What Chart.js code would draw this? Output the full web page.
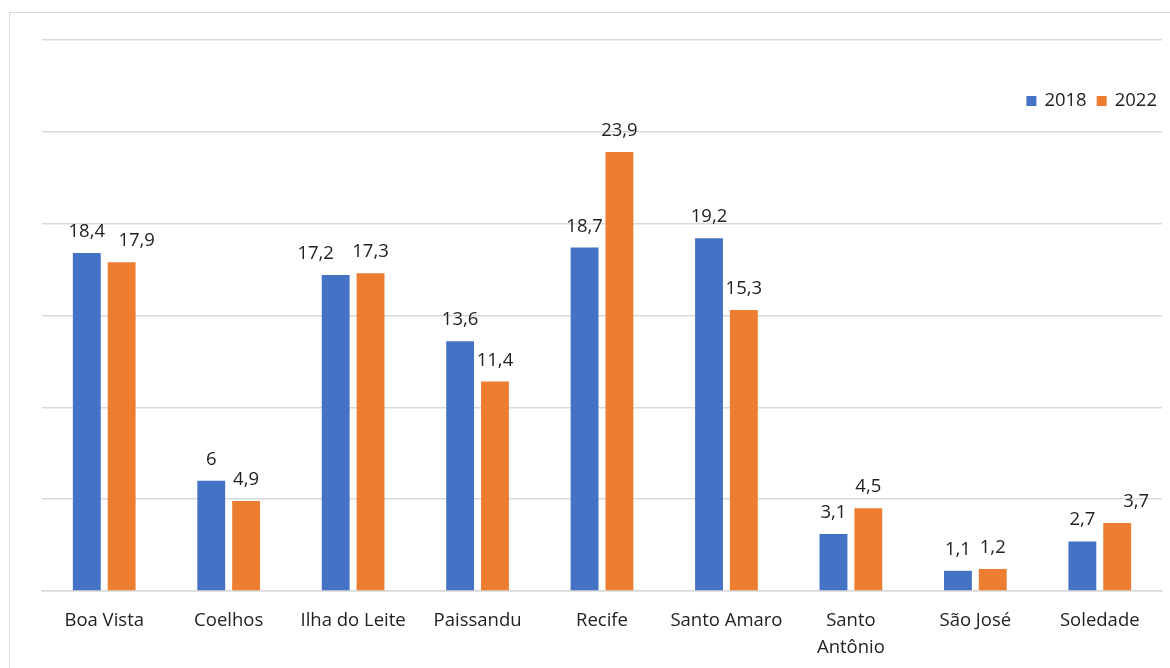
<!DOCTYPE html>
<html>
<head>
<meta charset="utf-8">
<script src="https://cdn.jsdelivr.net/npm/chart.js@4.4.0/dist/chart.umd.min.js"></script>
<style>
  html, body { margin: 0; padding: 0; background: #fff; }
  #wrap { position: relative; width: 1170px; height: 668px; overflow: hidden; }
  #frame { position: absolute; left: 9px; top: 12px; width: 1200px; height: 700px; border: 1px solid #d9d9d9; box-sizing: border-box; }
  #chart1 { position: absolute; left: 0; top: 0; }
</style>
</head>
<body>
<div id="wrap">
  <div id="frame"></div>
  <canvas id="chart1" width="1170" height="668"></canvas>
</div>
<script>
// bairros
const labels = ['Boa Vista', 'Coelhos', 'Ilha do Leite', 'Paissandu', 'Recife', 'Santo Amaro', ['Santo', 'Antônio'], 'São José', 'Soledade'];
const v2018 = [18.4, 6, 17.2, 13.6, 18.7, 19.2, 3.1, 1.1, 2.7];
const v2022 = [17.9, 4.9, 17.3, 11.4, 23.9, 15.3, 4.5, 1.2, 3.7];
const yTicks = [0, 5, 10, 15, 20, 25, 30];

const fontFam = "'Open Sans', sans-serif";
const fontSize = 18.5;
const txtColor = '#222';

// numeros em cima das barras, com virgula
// (alguns rotulos foram arrastados pro lado pra nao encostar no vizinho)
const valueLabels = {
  id: 'valueLabels',
  afterDatasetsDraw(chart) {
    const ctx = chart.ctx;
    const nudge = { '1-0': 15, '0-2': -20, '1-8': 19 };
    ctx.save();
    ctx.font = fontSize + 'px ' + fontFam;
    ctx.fillStyle = txtColor;
    ctx.textAlign = 'center';
    ctx.textBaseline = 'alphabetic';
    chart.data.datasets.forEach((ds, i) => {
      chart.getDatasetMeta(i).data.forEach((bar, j) => {
        const txt = String(ds.data[j]).replace('.', ',');
        const dx = nudge[i + '-' + j] || 0;
        ctx.fillText(txt, bar.x + dx, bar.y - 16);
      });
    });
    ctx.restore();
  }
};

// legenda dentro da area do grafico, canto superior direito
const innerLegend = {
  id: 'innerLegend',
  afterDraw(chart) {
    const ctx = chart.ctx;
    ctx.save();
    ctx.font = fontSize + 'px ' + fontFam;
    ctx.textBaseline = 'middle';
    const y = 101;
    let x = 1157;
    const items = chart.data.datasets.slice().reverse();
    items.forEach(ds => {
      const w = ctx.measureText(ds.label).width;
      x -= w;
      ctx.fillStyle = txtColor;
      ctx.fillText(ds.label, x, y);
      x -= 18;
      ctx.fillStyle = ds.backgroundColor;
      ctx.fillRect(x, y - 5, 10, 10);
      x -= 10;
    });
    ctx.restore();
  }
};

const data = {
  labels: labels,
  datasets: [
    { label: '2018', data: v2018, backgroundColor: '#4472C4', categoryPercentage: 0.56, barPercentage: 0.8 },
    { label: '2022', data: v2022, backgroundColor: '#ED7D31', categoryPercentage: 0.56, barPercentage: 0.8 }
  ]
};

const config = {
  type: 'bar',
  data: data,
  options: {
    responsive: false,
    animation: false,
    layout: { padding: { left: 42, right: 8, top: 40, bottom: 4 } },
    plugins: { legend: { display: false }, tooltip: { enabled: false } },
    scales: {
      x: {
        grid: { display: false, drawTicks: false },
        border: { color: '#d9d9d9', width: 1.5 },
        ticks: { color: txtColor, font: { family: fontFam, size: fontSize, lineHeight: 1.45 }, padding: 16, maxRotation: 0, autoSkip: false },
        afterFit(axis) { axis.height = 73; }
      },
      y: {
        min: yTicks[0],
        max: yTicks[yTicks.length - 1],
        afterBuildTicks(axis) { axis.ticks = yTicks.map(v => ({ value: v })); },
        ticks: { display: false },
        border: { display: false },
        grid: { color: '#d9d9d9', lineWidth: 1.5, drawTicks: false }
      }
    }
  },
  plugins: [valueLabels, innerLegend]
};

const myChart = new Chart(document.getElementById('chart1'), config);
</script>
</body>
</html>
